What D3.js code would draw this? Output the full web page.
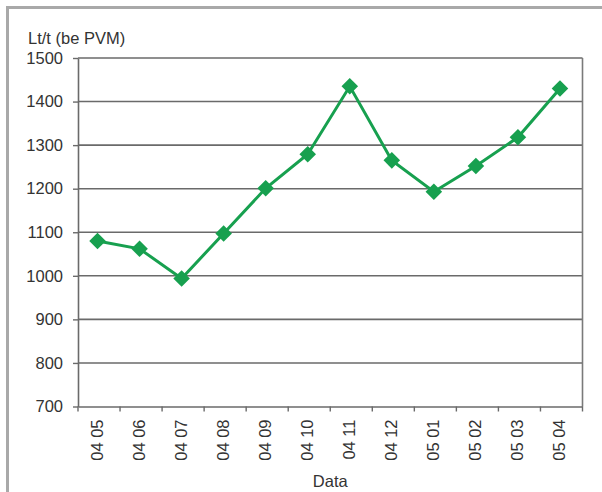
<!DOCTYPE html>
<html><head><meta charset="utf-8">
<script src="https://cdn.jsdelivr.net/npm/d3@7/dist/d3.min.js"></script>
<style>body{margin:0;background:#fff}svg{display:block}text{font-family:"Liberation Sans",Arial,sans-serif;fill:#333}</style>
</head><body>
<script>
const categories = ["04 05","04 06","04 07","04 08","04 09","04 10","04 11","04 12","05 01","05 02","05 03","05 04"];
const values = [1080,1062,994,1097,1201,1279,1435,1265,1193,1252,1318,1430];
const yTicks = [700,800,900,1000,1100,1200,1300,1400,1500];
const yTitle = "Lt/t (be PVM)";
const xTitle = "Data";

const W = 602, H = 492;
const FS = 16.5;
const m = {left:78, right:602-582.5, top:58, bottom:492-406.5};
const svg = d3.select("body").append("svg").attr("width",W).attr("height",H);

// outer frame
svg.append("path").attr("d","M7.5,492 L7.5,7.5 L602,7.5").attr("fill","none").attr("stroke","#a9a9a9").attr("stroke-width",3);

const x = d3.scaleBand().domain(categories).range([m.left, W-m.right]);
const y = d3.scaleLinear().domain([700,1500]).range([H-m.bottom, m.top]);

// gridlines
svg.append("g").selectAll("line").data(yTicks.filter(d=>d>700)).join("line")
  .attr("x1",m.left).attr("x2",W-m.right).attr("y1",d=>y(d)).attr("y2",d=>y(d))
  .attr("stroke","#6a6a6a").attr("stroke-width",1.6);

// right frame
svg.append("line").attr("x1",W-m.right).attr("x2",W-m.right).attr("y1",y(1500)).attr("y2",y(700))
  .attr("stroke","#7a7a7a").attr("stroke-width",1.6);

// y axis
const ya = svg.append("g").attr("transform",`translate(${m.left},0)`)
  .call(d3.axisLeft(y).tickValues(yTicks).tickFormat(d3.format("d")).tickSize(5).tickPadding(10).tickSizeOuter(0));
ya.select(".domain").attr("stroke","#6a6a6a").attr("stroke-width",1.6);
ya.selectAll(".tick line").attr("stroke","#6a6a6a").attr("stroke-width",1.4);
ya.selectAll(".tick text").attr("font-size",FS).attr("fill","#333").style("font-family","Liberation Sans, Arial, sans-serif");

// x axis
const xa = svg.append("g").attr("transform",`translate(0,${H-m.bottom})`)
  .call(d3.axisBottom(x).tickSize(0).tickSizeOuter(0));
xa.select(".domain").attr("stroke","#6a6a6a").attr("stroke-width",1.6);
xa.selectAll(".tick text").attr("font-size",FS).attr("fill","#333")
  .style("font-family","Liberation Sans, Arial, sans-serif")
  .attr("text-anchor","end").attr("transform","rotate(-90)")
  .attr("x",-13).attr("y",-2).attr("dy","0.35em");
// boundary tick marks
const bounds = categories.map(c=>x(c)).concat([x(categories[categories.length-1])+x.bandwidth()]);
svg.append("g").selectAll("line").data(bounds).join("line")
  .attr("x1",d=>d).attr("x2",d=>d).attr("y1",y(700)).attr("y2",y(700)+5)
  .attr("stroke","#6a6a6a").attr("stroke-width",1.4);

// titles
svg.append("text").attr("x",28).attr("y",44).attr("font-size",FS).text(yTitle);
svg.append("text").attr("x",(m.left+W-m.right)/2).attr("y",487).attr("text-anchor","middle").attr("font-size",FS).text(xTitle);

// line
const cx = d => x(d)+x.bandwidth()/2 - 1.5;
const data = categories.map((c,i)=>({c, v:values[i]}));
svg.append("path").datum(data)
  .attr("d", d3.line().x(d=>cx(d.c)).y(d=>y(d.v)))
  .attr("fill","none").attr("stroke","#17a04f").attr("stroke-width",3);
svg.append("g").selectAll("path").data(data).join("path")
  .attr("transform",d=>`translate(${cx(d.c)},${y(d.v)})`)
  .attr("d", d3.symbol(d3.symbolDiamond2, 175))
  .attr("fill","#17a04f");
</script>
</body></html>
